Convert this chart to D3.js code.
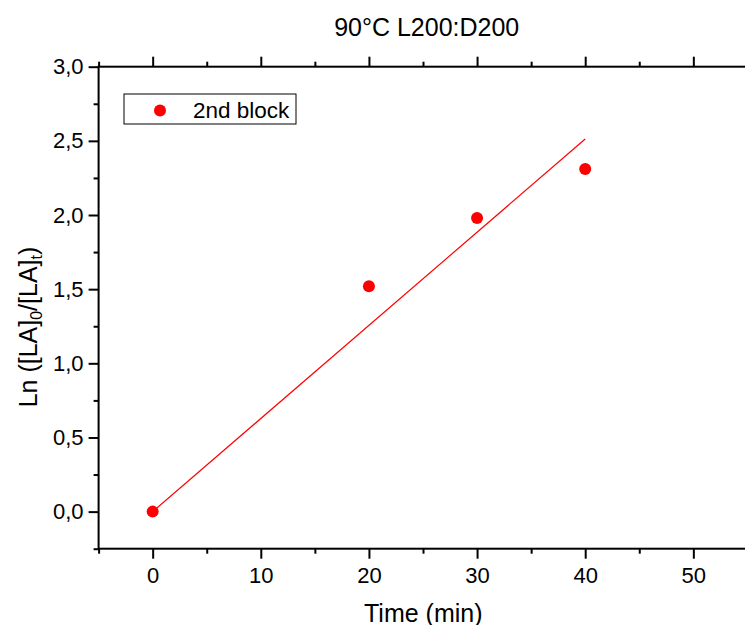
<!DOCTYPE html>
<html><head><meta charset="utf-8">
<script src="https://cdn.jsdelivr.net/npm/d3@7"></script>
<style>body{margin:0;background:#fff}svg{display:block;font-family:"Liberation Sans",Arial,sans-serif}</style>
</head><body><svg id="c" width="745" height="625"></svg>
<script>
const timeMin = [0, 20, 30, 40];
const lnRatio = [0, 1.52, 1.98, 2.31];
const fitX = [0, 40];
const fitY = [0, 2.512];
const xTicks = [0, 10, 20, 30, 40, 50];
const yTicks = [0, 0.5, 1.0, 1.5, 2.0, 2.5, 3.0];
const seriesName = "2nd block";
const title = "90°C L200:D200";

const svg = d3.select("#c");
const L = 98.6, R = 747.4, T = 66.7, B = 548.7;
const x = d3.scaleLinear().domain([-5, 55]).range([L, R]);
const y = d3.scaleLinear().domain([-0.25, 3.0]).range([B, T]);
const fmtY = d => d3.format(".1f")(d).replace(".", ",");

function axisSet(g, axis, minorAxis) {
  g.call(axis);
  g.select(".domain").remove();
}
// frame
svg.append("rect").attr("x", L).attr("y", T).attr("width", R - L).attr("height", B - T)
  .attr("fill", "none").attr("stroke", "#000").attr("stroke-width", 2);

// x bottom major
const xb = svg.append("g").attr("transform", `translate(0,${B})`)
  .call(d3.axisBottom(x).tickValues(xTicks).tickSize(10).tickPadding(9).tickFormat(d3.format("d")));
xb.select(".domain").remove();
xb.selectAll("line").attr("stroke-width", 2);
xb.selectAll("text").attr("font-size", 22).attr("fill", "#000");
const xbm = svg.append("g").attr("transform", `translate(0,${B})`)
  .call(d3.axisBottom(x).tickValues([-5, 5, 15, 25, 35, 45]).tickSize(5).tickFormat(""));
xbm.select(".domain").remove(); xbm.selectAll("line").attr("stroke-width", 2);
// x top
const xt = svg.append("g").attr("transform", `translate(0,${T})`)
  .call(d3.axisTop(x).tickValues(xTicks).tickSize(10).tickFormat(""));
xt.select(".domain").remove(); xt.selectAll("line").attr("stroke-width", 2);
const xtm = svg.append("g").attr("transform", `translate(0,${T})`)
  .call(d3.axisTop(x).tickValues([-5, 5, 15, 25, 35, 45]).tickSize(5).tickFormat(""));
xtm.select(".domain").remove(); xtm.selectAll("line").attr("stroke-width", 2);
// y left
const yl = svg.append("g").attr("transform", `translate(${L},0)`)
  .call(d3.axisLeft(y).tickValues(yTicks).tickSize(10).tickPadding(5).tickFormat(fmtY));
yl.select(".domain").remove(); yl.selectAll("line").attr("stroke-width", 2);
yl.selectAll("text").attr("font-size", 22).attr("fill", "#000");
const ylm = svg.append("g").attr("transform", `translate(${L},0)`)
  .call(d3.axisLeft(y).tickValues([-0.25, 0.25, 0.75, 1.25, 1.75, 2.25, 2.75]).tickSize(5).tickFormat(""));
ylm.select(".domain").remove(); ylm.selectAll("line").attr("stroke-width", 2);

// fit line
svg.append("path").datum(fitX.map((v, i) => [v, fitY[i]]))
  .attr("d", d3.line().x(d => x(d[0])).y(d => y(d[1])))
  .attr("stroke", "#ff0000").attr("stroke-width", 1.2).attr("fill", "none");
// points
svg.selectAll("circle.pt").data(timeMin.map((v, i) => [v, lnRatio[i]])).join("circle")
  .attr("class", "pt").attr("cx", d => x(d[0])).attr("cy", d => y(d[1])).attr("r", 6)
  .attr("fill", "#ff0000");

// legend
svg.append("rect").attr("x", 124).attr("y", 94).attr("width", 172).attr("height", 30)
  .attr("fill", "#fff").attr("stroke", "#000").attr("stroke-width", 1);
svg.append("circle").attr("cx", 160).attr("cy", 110.5).attr("r", 6).attr("fill", "#ff0000");
svg.append("text").attr("x", 193).attr("y", 117.5).attr("font-size", 22.5).text(seriesName);

// title
svg.append("text").attr("x", 426.7).attr("y", 36).attr("text-anchor", "middle")
  .attr("font-size", 25).text(title);
// x label
svg.append("text").attr("x", 423.3).attr("y", 621.5).attr("text-anchor", "middle")
  .attr("font-size", 25).text("Time (min)");
// y label
const yt = svg.append("text").attr("transform", "translate(37,327) rotate(-90)")
  .attr("text-anchor", "middle").attr("font-size", 25);
yt.append("tspan").text("Ln ([LA]");
yt.append("tspan").attr("font-size", 16).attr("dy", 5).text("0");
yt.append("tspan").attr("dy", -5).text("/[LA]");
yt.append("tspan").attr("font-size", 16).attr("dy", 5).text("t");
yt.append("tspan").attr("dy", -5).text(")");
</script></body></html>
